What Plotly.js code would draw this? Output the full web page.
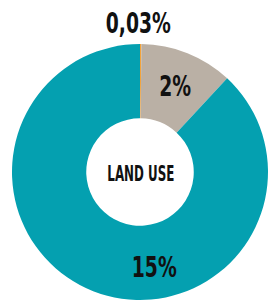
<!DOCTYPE html>
<html>
<head>
<meta charset="utf-8">
<script src="https://cdn.plot.ly/plotly-3.0.1.min.js"></script>
<style>
html,body{margin:0;padding:0;background:#fff;}
#chart{width:268px;height:301px;}
#chart .annotation-text{transform-box:fill-box;transform-origin:center;transform:scaleX(0.72);}
#chart .annotation:last-child .annotation-text{transform:scaleX(0.6);}
</style>
</head>
<body>
<div id="chart"></div>
<script>
var categories = ["Minor", "Secondary", "Land use"];
var values = [0.03, 2, 15];
var valueLabels = ["0,03%", "2%", "15%"];
var centerLabel = "LAND USE";
var colors = ["#F3A33C", "#BAB0A5", "#04A0B0"];

var FONT = "'DejaVu Sans Condensed', 'DejaVu Sans', sans-serif";

var trace = {
  type: "pie",
  labels: categories,
  values: values,
  hole: 0.42,
  sort: false,
  direction: "clockwise",
  rotation: 0,
  textinfo: "none",
  hoverinfo: "none",
  showlegend: false,
  marker: {colors: colors, line: {width: 0}},
  domain: {x: [12/268, 268/268], y: [1/301, 257/301]}
};

var labelPos = [[138, 23], [175, 86], [154, 267]];
var annotations = valueLabels.map(function(t, i) {
  return {
    text: "<b>" + t + "</b>",
    xref: "paper", yref: "paper",
    x: labelPos[i][0] / 268, y: 1 - labelPos[i][1] / 301,
    xanchor: "center", yanchor: "middle",
    showarrow: false,
    font: {family: FONT, size: 29, color: "#111"}
  };
});
annotations.push({
  text: "<b>" + centerLabel + "</b>",
  xref: "paper", yref: "paper",
  x: 141 / 268, y: 1 - 173 / 301,
  xanchor: "center", yanchor: "middle",
  showarrow: false,
  font: {family: FONT, size: 22, color: "#111"}
});

var layout = {
  width: 268, height: 301,
  margin: {l: 0, r: 0, t: 0, b: 0},
  paper_bgcolor: "#fff",
  annotations: annotations
};

Plotly.newPlot("chart", [trace], layout, {displayModeBar: false, staticPlot: true});
</script>
</body>
</html>
